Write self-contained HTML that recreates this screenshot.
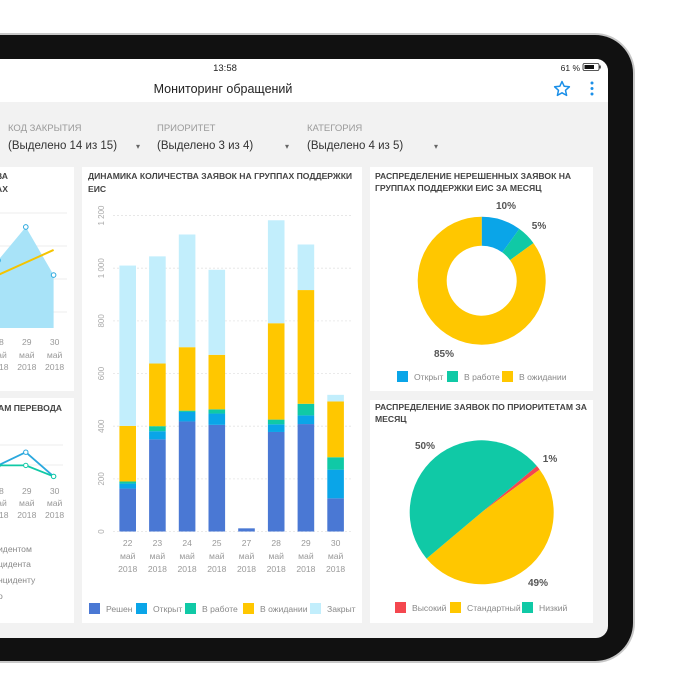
<!DOCTYPE html>
<html><head><meta charset="utf-8">
<style>
html,body{margin:0;padding:0;background:#fff;width:700px;height:700px;overflow:hidden}
svg{display:block;font-family:"Liberation Sans","DejaVu Sans",sans-serif}
</style></head>
<body>
<svg id="root" width="700" height="700" viewBox="0 0 700 700" xmlns="http://www.w3.org/2000/svg">
  <rect x="-60" y="33" width="695" height="630" rx="40" fill="#c8c8c8"/>
  <rect x="-58" y="35" width="691" height="626" rx="38" fill="#111"/>
  <rect x="-30" y="59" width="638" height="579" rx="12" fill="#f2f2f2"/>
  <path d="M-30 102 V71 A12 12 0 0 1 -18 59 H596 A12 12 0 0 1 608 71 V102 Z" fill="#fff"/>
  <text x="225" y="71" font-size="9.5" fill="#222" text-anchor="middle">13:58</text>
  <text x="580" y="71" font-size="8.5" fill="#222" text-anchor="end">61 %</text>
  <g><rect x="583" y="63.5" width="16" height="7" rx="1.5" fill="none" stroke="#222" stroke-width="0.8"/><rect x="584.5" y="65" width="9.5" height="4" fill="#111"/><rect x="599.5" y="65.5" width="1.2" height="3" fill="#222"/></g>
  <text x="223" y="93" font-size="12.5" fill="#222" text-anchor="middle">Мониторинг обращений</text>
  <path d="M562 81.5 L564.2 86.3 L569.4 86.8 L565.5 90.3 L566.6 95.4 L562 92.8 L557.4 95.4 L558.5 90.3 L554.6 86.8 L559.8 86.3 Z" fill="none" stroke="#1a8fe8" stroke-width="1.5" stroke-linejoin="round"/>
  <g fill="#1a8fe8"><circle cx="592" cy="83" r="1.5"/><circle cx="592" cy="88.5" r="1.5"/><circle cx="592" cy="94" r="1.5"/></g>

  <g font-size="9.5" fill="#9a9a9a">
    <text x="8" y="131">КОД ЗАКРЫТИЯ</text>
    <text x="157" y="131">ПРИОРИТЕТ</text>
    <text x="307" y="131">КАТЕГОРИЯ</text>
  </g>
  <g font-size="11.5" fill="#333">
    <text x="8" y="149">(Выделено 14 из 15)</text>
    <text x="157" y="149">(Выделено 3 из 4)</text>
    <text x="307" y="149">(Выделено 4 из 5)</text>
  </g>
  <g fill="#666" font-size="8"><text x="136" y="149">▾</text><text x="285" y="149">▾</text><text x="434" y="149">▾</text></g>

  <rect x="-30" y="167" width="104" height="224" fill="#fff"/>
  <rect x="-30" y="398" width="104" height="225" fill="#fff"/>
  <rect x="82" y="167" width="280" height="456" fill="#fff"/>
  <rect x="370" y="167" width="223" height="224" fill="#fff"/>
  <rect x="370" y="400" width="223" height="223" fill="#fff"/>

  <g font-size="8.6" font-weight="bold" fill="#444">
    <text x="-4" y="179">ВА</text>
    <text x="-4" y="192">АХ</text>
    <text x="-2" y="411">АМ ПЕРЕВОДА</text>
    <text x="88" y="179">ДИНАМИКА КОЛИЧЕСТВА ЗАЯВОК НА ГРУППАХ ПОДДЕРЖКИ</text>
    <text x="88" y="192">ЕИС</text>
    <text x="375" y="179">РАСПРЕДЕЛЕНИЕ НЕРЕШЕННЫХ ЗАЯВОК НА</text>
    <text x="375" y="191">ГРУППАХ ПОДДЕРЖКИ ЕИС ЗА МЕСЯЦ</text>
    <text x="375" y="410">РАСПРЕДЕЛЕНИЕ ЗАЯВОК ПО ПРИОРИТЕТАМ ЗА</text>
    <text x="375" y="422">МЕСЯЦ</text>
  </g>

  <g id="leftTop"></g>
  <g id="leftBottom"></g>
  <g id="bars"></g>
  <g id="donut"></g>
  <g id="pie"></g>
</svg>
<script>
const NS='http://www.w3.org/2000/svg';
function mk(tag,attrs,parent,txt){const e=document.createElementNS(NS,tag);for(const k in attrs)e.setAttribute(k,attrs[k]);if(txt!==undefined)e.textContent=txt;parent.appendChild(e);return e;}

const barDays=['22','23','24','25','27','28','29','30'];
const seriesNames=['Решен','Открыт','В работе','В ожидании','Закрыт'];
const solved=[163,350,418,405,12,378,408,126];
const opened=[19,31,36,43,0,29,33,109];
const inWork=[8,19,5,16,0,18,44,47];
const waiting=[211,238,241,207,0,366,432,212];
const closed=[609,407,428,323,0,391,173,25];
const yTicks=[0,200,400,600,800,1000,1200];
const yTickLabels=['0','200','400','600','800','1 000','1 200'];
const seriesColors=['#4a78d4','#0aa5e8','#10c9a6','#ffc700','#c2eefc'];

const donutLabels=['Открыт','В работе','В ожидании'];
const donutValues=[10,5,85];
const donutColors=['#0aa5e8','#10c9a6','#ffc700'];
const pieLabels=['Высокий','Стандартный','Низкий'];
const pieValues=[1,49,50];
const pieColors=['#f4474f','#ffc700','#10c9a6'];

const leftDays=['28','29','30'];
const areaValues=[62,78,55];
const trendValues=[55,61,67];
const lineA=[43,49,38];
const lineB=[43,43,38];

const bx0=113, bStep=29.7, by0=531.5, bScale=0.2633;
const xB=i=>127.7+i*bStep;
const yB=v=>by0-v*bScale;

const gb=document.getElementById('bars');
yTicks.forEach((t,i)=>{
  const y=yB(t);
  const g=mk('line',{x1:bx0,x2:352,y1:y,y2:y,stroke:'#e4e4e4','stroke-width':0.8,'stroke-dasharray':'2,2'},gb);
  
  
  const tl=mk('text',{x:0,y:0,'font-size':8,fill:'#aaa','text-anchor':'middle',transform:`translate(104,${y}) rotate(-90)`},gb,yTickLabels[i]);
  
  
});
const allSeries=[solved,opened,inWork,waiting,closed];
barDays.forEach((d,i)=>{
  let acc=0;
  allSeries.forEach((s,k)=>{
    const v=s[i]; if(v<=0) return;
    const r=mk('rect',{x:xB(i)-8.3,y:yB(acc+v),width:16.6,height:v*bScale,fill:seriesColors[k]},gb);
    
    
    acc+=v;
  });
  [[d,546],['май',559],['2018',572]].forEach(([t,y])=>{
    const tx=mk('text',{x:xB(i),y:y,'font-size':8.6,fill:'#999','text-anchor':'middle'},gb,t);
    
    
  });
});
const legX=[89,136,185,243,310];
seriesNames.forEach((n,k)=>{
  const r=mk('rect',{x:legX[k],y:603,width:11,height:11,fill:seriesColors[k]},gb);
  
  
  const t=mk('text',{x:legX[k]+17,y:612,'font-size':8.6,fill:'#888'},gb,n);
  
  
});

function slices(g,cx,cy,r,ri,vals,cols,start){
  const tot=vals.reduce((a,b)=>a+b,0);let a=start;
  vals.forEach((v,i)=>{
    const a1=a+v/tot*360;
    const rad=x=>(x-90)*Math.PI/180;
    const p=(ang,rr)=>[cx+rr*Math.cos(rad(ang)),cy+rr*Math.sin(rad(ang))];
    const large=(a1-a)>180?1:0;
    const [x0,y0]=p(a,r),[x1,y1]=p(a1,r);
    let d=`M${x0} ${y0} A${r} ${r} 0 ${large} 1 ${x1} ${y1}`;
    if(ri>0){const [x2,y2]=p(a1,ri),[x3,y3]=p(a,ri);d+=` L${x2} ${y2} A${ri} ${ri} 0 ${large} 0 ${x3} ${y3} Z`;}
    else d+=` L${cx} ${cy} Z`;
    const s=mk('path',{d:d,fill:cols[i]},g);
    
    
    a=a1;
  });
}
const gd=document.getElementById('donut');
slices(gd,481.7,280.7,64,35,donutValues,donutColors,0);
[[506,209,0],[539,229,1],[444,357,2]].forEach(([x,y,i])=>{
  const t=mk('text',{x:x,y:y,'font-size':10,'font-weight':'bold',fill:'#555','text-anchor':'middle'},gd,donutValues[i]+'%');
  
  
});
[397,447,502].forEach((x,i)=>{
  const r=mk('rect',{x:x,y:371,width:11,height:11,fill:donutColors[i]},gd);
  
  
  const t=mk('text',{x:x+17,y:380,'font-size':8.6,fill:'#888'},gd,donutLabels[i]);
  
  
});
const gp=document.getElementById('pie');
slices(gp,481.7,512.3,72,0,pieValues,pieColors,50);
[[550,462,0],[538,586,1],[425,449,2]].forEach(([x,y,i])=>{
  const t=mk('text',{x:x,y:y,'font-size':10,'font-weight':'bold',fill:'#555','text-anchor':'middle'},gp,pieValues[i]+'%');
  
  
});
[395,450,522].forEach((x,i)=>{
  const r=mk('rect',{x:x,y:602,width:11,height:11,fill:pieColors[i]},gp);
  
  
  const t=mk('text',{x:x+17,y:611,'font-size':8.6,fill:'#888'},gp,pieLabels[i]);
  
  
});

const xL=i=>-2+i*27.8;
const yLT=v=>390-v*2.09;
const glt=document.getElementById('leftTop');
[213,246,279,312].forEach(y=>{const l=mk('line',{x1:-30,x2:67,y1:y,y2:y,stroke:'#e6e6e6','stroke-width':0.8},glt);});
let pts=areaValues.map((v,i)=>`${xL(i)},${yLT(v)}`).join(' ');
const ar=mk('polygon',{points:`${xL(0)-40},328 ${xL(0)-40},${yLT(areaValues[0])+10} ${pts} ${xL(2)},328`,fill:'#a8e3f8'},glt);


const tr=mk('polyline',{points:trendValues.map((v,i)=>`${xL(i)},${yLT(v)}`).join(' '),fill:'none',stroke:'#f5c400','stroke-width':2},glt);


areaValues.forEach((v,i)=>{const c=mk('circle',{cx:xL(i),cy:yLT(v),r:2.3,fill:'#fff',stroke:'#2aa8de','stroke-width':1},glt);});
leftDays.forEach((d,i)=>{[[d,345],['май',358],['2018',370]].forEach(([t,y])=>{const tx=mk('text',{x:xL(i)+1,y:y,'font-size':8.6,fill:'#999','text-anchor':'middle'},glt,t);});});

const yLB=v=>560-v*2.2;
const glb=document.getElementById('leftBottom');
[445,465].forEach(y=>{const l=mk('line',{x1:-30,x2:63,y1:y,y2:y,stroke:'#e6e6e6','stroke-width':0.8},glb);});
[[lineA,'#2aa8de'],[lineB,'#10c9a6']].forEach(([arr,col])=>{
  const pl=mk('polyline',{points:`-30,${yLB(arr[0])} `+arr.map((v,i)=>`${xL(i)},${yLB(v)}`).join(' '),fill:'none',stroke:col,'stroke-width':1.8},glb);
  
  
  arr.forEach((v,i)=>{const c=mk('circle',{cx:xL(i),cy:yLB(v),r:2.2,fill:'#fff',stroke:col,'stroke-width':1},glb);});
});
leftDays.forEach((d,i)=>{[[d,494],['май',506],['2018',518]].forEach(([t,y])=>{const tx=mk('text',{x:xL(i)+1,y:y,'font-size':8.6,fill:'#999','text-anchor':'middle'},glb,t);});});
[['идентом',552],['цидента',567],['нциденту',583],['о',599]].forEach(([t,y])=>{const tx=mk('text',{x:-2,y:y,'font-size':8.6,fill:'#888'},glb,t);});
</script>
</body></html>
